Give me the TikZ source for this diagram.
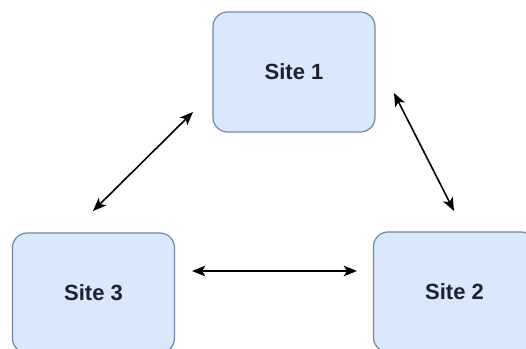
\documentclass[tikz,border=0pt]{standalone}
\usepackage{fontspec}
\setmainfont{Liberation Sans}
\usetikzlibrary{arrows.meta}
\definecolor{boxfill}{HTML}{DAE8FC}
\definecolor{boxdraw}{HTML}{6F86A8}
\definecolor{txt}{HTML}{1C2330}
\begin{document}
\begin{tikzpicture}[x=0.75pt,y=-0.75pt,
  site/.style={draw=boxdraw,fill=boxfill,line width=0.9pt,rounded corners=11pt,
    minimum width=162*0.75pt,minimum height=120*0.75pt,inner sep=0pt,
    font=\fontsize{16.5}{19}\selectfont\bfseries,text=txt},
  link/.style={line width=1.2pt,{Stealth[length=10pt,width=8pt,inset=2.5pt]}-{Stealth[length=10pt,width=8pt,inset=2.5pt]}}]
\clip (0,0) rectangle (526,349);
\fill[white] (0,0) rectangle (526,349);
\node[site] (s1) at (294,72) {Site 1};
\node[site] (s3) at (93.5,293) {Site 3};
\node[site] (s2) at (454.5,292) {Site 2};
\coordinate (a1) at (193,112);
\coordinate (a3) at (93,211);
\coordinate (b1) at (394,93);
\coordinate (b2) at (454,211);
\coordinate (c3) at (192,271);
\coordinate (c2) at (357,271);
\draw[link] (a3) -- (a1);
\draw[link] (b1) -- (b2);
\draw[link] (c3) -- (c2);
\end{tikzpicture}
\end{document}
